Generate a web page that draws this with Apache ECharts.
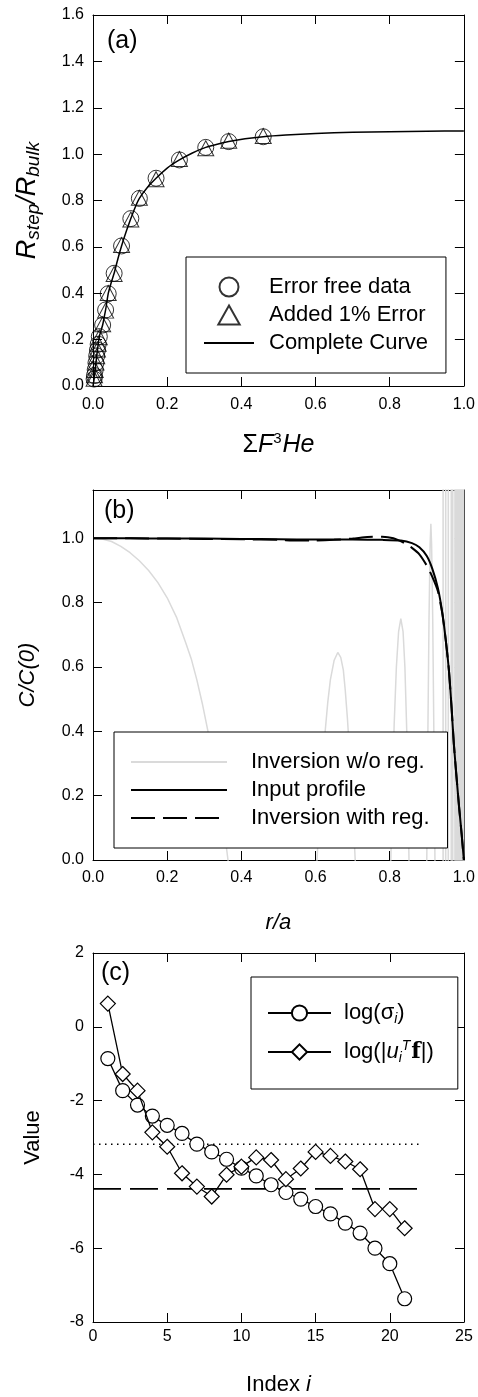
<!DOCTYPE html>
<html><head><meta charset="utf-8">
<script src="https://cdn.jsdelivr.net/npm/echarts@6/dist/echarts.min.js"></script>
<style>html,body{margin:0;padding:0;background:#fff}#c{width:478px;height:1397px}</style>
</head><body><div id="c"></div>
<script>
// ---------- Panel (a) ----------
const aXTicks = [0, 0.2, 0.4, 0.6, 0.8, 1.0];
const aYTicks = [0, 0.2, 0.4, 0.6, 0.8, 1.0, 1.2, 1.4, 1.6];
const aFreeX = [0.003,0.004,0.006,0.008,0.010,0.012,0.014,0.017,0.026,0.034,0.041,0.057,0.077,0.102,0.125,0.170,0.233,0.304,0.366,0.459];
const aFreeY = [0.030,0.045,0.070,0.100,0.130,0.155,0.180,0.213,0.263,0.328,0.398,0.486,0.604,0.722,0.809,0.896,0.975,1.029,1.054,1.075];
const aErrY  = [0.031,0.046,0.069,0.101,0.128,0.157,0.182,0.210,0.266,0.325,0.401,0.483,0.608,0.718,0.812,0.892,0.979,1.025,1.058,1.078];
const aCurveX = [0,0.003,0.006,0.010,0.014,0.017,0.021,0.026,0.030,0.034,0.041,0.049,0.057,0.067,0.077,0.090,0.102,0.113,0.125,0.147,0.170,0.200,0.233,0.268,0.304,0.335,0.366,0.410,0.459,0.52,0.6,0.7,0.8,0.9,1.0];
const aCurveY = [0,0.030,0.070,0.130,0.180,0.213,0.236,0.263,0.295,0.328,0.398,0.445,0.486,0.548,0.604,0.668,0.722,0.768,0.809,0.857,0.896,0.940,0.975,1.005,1.029,1.043,1.054,1.066,1.075,1.082,1.089,1.094,1.097,1.099,1.100];
const aNames = ['Error free data', 'Added 1% Error', 'Complete Curve'];

// ---------- Panel (b) ----------
const bXTicks = [0, 0.2, 0.4, 0.6, 0.8, 1.0];
const bYTicks = [0, 0.2, 0.4, 0.6, 0.8, 1.0];
const bYMax = 1.15;
const bInputR = [0,0.1,0.2,0.3,0.4,0.5,0.6,0.7,0.78,0.83,0.86,0.88,0.9,0.915,0.93,0.942,0.952,0.96,0.967,0.973,0.98,0.987,0.994,1.0];
const bInputC = [1.0,1.0,0.999,0.999,0.998,0.997,0.996,0.996,0.995,0.993,0.985,0.972,0.945,0.905,0.845,0.767,0.675,0.585,0.47,0.36,0.26,0.166,0.08,0.0];
const bRegR = [0,0.1,0.2,0.3,0.4,0.5,0.55,0.6,0.65,0.7,0.74,0.78,0.81,0.84,0.86,0.88,0.9,0.915,0.93,0.942,0.952,0.96,0.967,0.973,0.98,0.987,0.994,1.0];
const bRegC = [1.0,1.0,0.999,0.998,0.997,0.995,0.993,0.993,0.995,0.999,1.004,1.005,1.0,0.985,0.97,0.95,0.915,0.88,0.835,0.765,0.675,0.585,0.47,0.36,0.26,0.166,0.08,0.0];
const bNoRegR = [0,0.025,0.05,0.075,0.1,0.125,0.15,0.175,0.2,0.225,0.25,0.265,0.28,0.295,0.31,0.325,0.34,0.352,0.364,0.4,0.48,0.56,
  0.604,0.61,0.615,0.62,0.626,0.633,0.64,0.65,0.66,0.668,0.675,0.68,0.686,0.692,0.697,0.702,0.707,0.72,0.755,0.79,
  0.803,0.808,0.812,0.818,0.824,0.83,0.836,0.841,0.846,0.849,0.852,0.865,0.885,
  0.9,0.903,0.906,0.909,0.911,0.913,0.916,0.919,0.922,0.93,
  0.9437,0.944,0.9443,0.9507,0.951,0.9513,0.9577,0.958,0.9583,0.9657,0.966,0.9663,0.9697,0.970,0.9703,0.9757,0.976,0.9763,
  0.978,0.979,0.980,0.981,0.982,0.983,0.984,0.985,0.986,0.987,0.988,0.989,0.990,0.991,0.992,0.993,0.994,0.995,0.996,0.997,0.998,0.999,1.0];
const bNoRegC = [1.0,0.998,0.99,0.975,0.955,0.93,0.9,0.862,0.815,0.755,0.675,0.625,0.56,0.485,0.40,0.31,0.21,0.11,0.0,-0.3,-0.7,-0.4,
  0.0,0.13,0.25,0.33,0.4,0.49,0.56,0.62,0.645,0.63,0.59,0.53,0.44,0.33,0.23,0.12,0.0,-0.3,-0.7,-0.3,
  0.0,0.25,0.42,0.6,0.71,0.75,0.71,0.6,0.4,0.22,0.0,-0.5,-0.6,
  0.0,0.4,0.75,0.98,1.045,0.98,0.75,0.4,0.0,-1.0,
  -3,3,-3,-3,3,-3,-3,3,-3,-3,3,-3,-3,3,-3,-3,3,-3,
  -3,3,-3,3,-3,3,-3,3,-3,3,-3,3,-3,3,-3,3,-3,3,-3,3,-3,3,-3];
const bNames = ['Inversion w/o reg.', 'Input profile', 'Inversion with reg.'];

// ---------- Panel (c) ----------
const cXTicks = [0, 5, 10, 15, 20, 25];
const cYTicks = [-8, -6, -4, -2, 0, 2];
const cIndex = [1,2,3,4,5,6,7,8,9,10,11,12,13,14,15,16,17,18,19,20,21];
const cSigma = [-0.86,-1.73,-2.12,-2.42,-2.67,-2.89,-3.18,-3.39,-3.59,-3.83,-4.04,-4.28,-4.49,-4.67,-4.87,-5.07,-5.32,-5.59,-6.00,-6.42,-7.37];
const cUf    = [0.63,-1.28,-1.73,-2.86,-3.25,-3.97,-4.33,-4.60,-4.01,-3.79,-3.54,-3.61,-4.13,-3.84,-3.39,-3.50,-3.65,-3.86,-4.94,-4.94,-5.46];
const cLevelX = [0, 22];
const cDotted = [-3.18, -3.18];
const cDashed = [-4.39, -4.39];
const cNames = ['log(σi)', 'log(|uiTf|)'];

const FONT = '"Liberation Sans", Arial, Helvetica, sans-serif';
const zip = (xs, ys) => xs.map((x, i) => [x, ys[i]]);
const fmt1 = v => v.toFixed(1);

const grids = [
  {left: 93, top: 15, width: 371, height: 371},
  {left: 93, top: 490, width: 372, height: 370},
  {left: 93, top: 953, width: 371, height: 369}
];

function baseAxis(gridIndex, ticks, max, position, showLabels, fmt, margin) {
  return {
    type: 'value', gridIndex, position,
    min: ticks[0], max: max, interval: ticks[1] - ticks[0],
    axisLine: {show: true, onZero: false, lineStyle: {color: '#000', width: 1}},
    axisTick: {show: true, inside: true, length: 9, lineStyle: {color: '#000', width: 1}},
    axisLabel: {show: showLabels, color: '#000', fontSize: 16, fontFamily: FONT, margin: margin,
      formatter: v => (v > ticks[ticks.length - 1] + 1e-9 ? '' : fmt(v))},
    splitLine: {show: false}
  };
}
const nameStyle = (size) => ({color: '#000', fontSize: size, fontFamily: FONT});

const xAxes = [
  Object.assign(baseAxis(0, aXTicks, 1.0, 'bottom', true, fmt1, 11), {
    name: '{n|Σ}{i|F}{sup|3}{i|He}', nameLocation: 'middle', nameGap: 45,
    nameTextStyle: Object.assign(nameStyle(25), {rich: {
      n: {fontSize: 25, fontFamily: FONT, color: '#000'},
      i: {fontSize: 25, fontFamily: FONT, fontStyle: 'italic', color: '#000'},
      sup: {fontSize: 15, fontFamily: FONT, color: '#000', padding: [0, 1, 13, 0]}}})
  }),
  baseAxis(0, aXTicks, 1.0, 'top', false, fmt1, 8),
  Object.assign(baseAxis(1, bXTicks, 1.0, 'bottom', true, fmt1, 10), {
    name: 'r/a', nameLocation: 'middle', nameGap: 52,
    nameTextStyle: Object.assign(nameStyle(22), {fontStyle: 'italic'})
  }),
  baseAxis(1, bXTicks, 1.0, 'top', false, fmt1, 8),
  Object.assign(baseAxis(2, cXTicks, 25, 'bottom', true, v => String(v), 7), {
    name: '{n|Index }{i|i}', nameLocation: 'middle', nameGap: 52,
    nameTextStyle: Object.assign(nameStyle(22), {rich: {
      n: {fontSize: 22, fontFamily: FONT, color: '#000'},
      i: {fontSize: 22, fontFamily: FONT, fontStyle: 'italic', color: '#000'}}})
  }),
  baseAxis(2, cXTicks, 25, 'top', false, v => String(v), 8)
];
const yAxes = [
  Object.assign(baseAxis(0, aYTicks, 1.6, 'left', true, fmt1, 9), {
    name: '{i|R}{s|step}{i|/R}{s|bulk}', nameLocation: 'middle', nameRotate: 90, nameGap: 50,
    nameTextStyle: Object.assign(nameStyle(27), {rich: {
      i: {fontSize: 27, fontFamily: FONT, fontStyle: 'italic', color: '#000'},
      s: {fontSize: 19, fontFamily: FONT, fontStyle: 'italic', color: '#000', padding: [12, 0, 0, 0]}}})
  }),
  baseAxis(0, aYTicks, 1.6, 'right', false, fmt1, 8),
  Object.assign(baseAxis(1, bYTicks, bYMax, 'left', true, fmt1, 9), {
    name: 'C/C(0)', nameLocation: 'middle', nameRotate: 90, nameGap: 54,
    nameTextStyle: Object.assign(nameStyle(22), {fontStyle: 'italic'})
  }),
  baseAxis(1, bYTicks, bYMax, 'right', false, fmt1, 8),
  Object.assign(baseAxis(2, cYTicks, 2, 'left', true, v => String(v), 9), {
    name: 'Value', nameLocation: 'middle', nameRotate: 90, nameGap: 49,
    nameTextStyle: nameStyle(22)
  }),
  baseAxis(2, cYTicks, 2, 'right', false, v => String(v), 8)
];

const hollow = {color: 'rgba(0,0,0,0)', borderColor: '#000', borderWidth: 1};
const series = [
  {name: aNames[0], type: 'scatter', xAxisIndex: 0, yAxisIndex: 0, symbol: 'circle', symbolSize: 16,
   itemStyle: hollow, data: zip(aFreeX, aFreeY), z: 2},
  {name: aNames[1], type: 'scatter', xAxisIndex: 0, yAxisIndex: 0, symbol: 'triangle', symbolSize: [16, 15],
   itemStyle: hollow, data: zip(aFreeX, aErrY), z: 2},
  {name: aNames[2], type: 'line', xAxisIndex: 0, yAxisIndex: 0, symbol: 'none', smooth: 0.2,
   lineStyle: {color: '#000', width: 1.5}, itemStyle: {color: 'rgba(0,0,0,0)', borderWidth: 0},
   data: zip(aCurveX, aCurveY), z: 3},

  {name: bNames[0], type: 'line', xAxisIndex: 2, yAxisIndex: 2, symbol: 'none', clip: true,
   lineStyle: {color: '#dadada', width: 1.5}, itemStyle: {color: 'rgba(0,0,0,0)', borderWidth: 0},
   data: zip(bNoRegR, bNoRegC), z: 2},
  {name: bNames[1], type: 'line', xAxisIndex: 2, yAxisIndex: 2, symbol: 'none', smooth: 0.2, clip: true,
   lineStyle: {color: '#000', width: 2}, itemStyle: {color: 'rgba(0,0,0,0)', borderWidth: 0},
   data: zip(bInputR, bInputC), z: 3},
  {name: bNames[2], type: 'line', xAxisIndex: 2, yAxisIndex: 2, symbol: 'none', smooth: 0.2, clip: true,
   lineStyle: {color: '#000', width: 2, type: [24, 8]}, itemStyle: {color: 'rgba(0,0,0,0)', borderWidth: 0},
   data: zip(bRegR, bRegC), z: 3},

  {name: 'dotted', type: 'line', xAxisIndex: 4, yAxisIndex: 4, symbol: 'none',
   lineStyle: {color: '#000', width: 1.5, type: [1.5, 4.5]}, data: zip(cLevelX, cDotted), z: 1},
  {name: 'dashed', type: 'line', xAxisIndex: 4, yAxisIndex: 4, symbol: 'none',
   lineStyle: {color: '#000', width: 1.8, type: [28, 9]}, data: zip(cLevelX, cDashed), z: 1},
  {name: cNames[0], type: 'line', xAxisIndex: 4, yAxisIndex: 4, symbol: 'circle', symbolSize: 14,
   lineStyle: {color: '#000', width: 1.3}, itemStyle: {color: '#fff', borderColor: '#000', borderWidth: 1.2},
   data: zip(cIndex, cSigma), z: 3},
  {name: cNames[1], type: 'line', xAxisIndex: 4, yAxisIndex: 4, symbol: 'diamond', symbolSize: 15,
   lineStyle: {color: '#000', width: 1.3}, itemStyle: {color: '#fff', borderColor: '#000', borderWidth: 1.2},
   data: zip(cIndex, cUf), z: 4}
];

const legendBase = {
  orient: 'vertical', borderColor: '#000', borderWidth: 1, backgroundColor: '#fff',
  selectedMode: false, itemGap: 6, z: 10, symbolKeepAspect: true
};
const richC = {
  n: {fontSize: 22, fontFamily: FONT, color: '#000'},
  it: {fontSize: 22, fontFamily: FONT, fontStyle: 'italic', color: '#000'},
  sub: {fontSize: 14, fontFamily: FONT, fontStyle: 'italic', color: '#000', padding: [12, 0, 0, 0]},
  sup: {fontSize: 14, fontFamily: FONT, fontStyle: 'italic', color: '#000', padding: [0, 1, 12, 0]},
  bf: {fontSize: 22, fontFamily: '"DejaVu Serif", "Liberation Serif", serif', fontWeight: 'bold', color: '#000'}
};
const legends = [
  Object.assign({}, legendBase, {
    data: [
      {name: aNames[0], icon: 'circle'},
      {name: aNames[1], icon: 'path://M9,0 L18,16 L0,16 Z'},
      {name: aNames[2]}
    ],
    left: 186, top: 257, padding: [19, 18, 19, 17], itemWidth: 50, itemHeight: 19,
    textStyle: {fontSize: 22, fontFamily: FONT, color: '#000', padding: [0, 0, 0, 10]}
  }),
  Object.assign({}, legendBase, {
    data: bNames, left: 114, top: 732, padding: [19, 18, 19, 16], itemWidth: 96, itemHeight: 14,
    textStyle: {fontSize: 22, fontFamily: FONT, color: '#000', padding: [0, 0, 0, 19]}
  }),
  Object.assign({}, legendBase, {
    data: cNames, left: 251, top: 977, padding: [25, 24, 24, 16], itemWidth: 63, itemHeight: 19, itemGap: 13,
    textStyle: {fontSize: 22, fontFamily: FONT, color: '#000', padding: [0, 0, 0, 8], rich: richC},
    formatter: name => name === cNames[0]
      ? '{n|log(σ}{sub|i}{n|)}'
      : '{n|log(|}{it|u}{sub|i}{sup|T}{bf|f}{n||)}'
  })
];

const titles = [
  {text: '(a)', left: 107, top: 29},
  {text: '(b)', left: 104, top: 499},
  {text: '(c)', left: 101, top: 961}
].map(t => Object.assign(t, {padding: 0, textStyle: {fontSize: 25, fontWeight: 'normal', fontFamily: FONT, color: '#000'}}));

const chart = echarts.init(document.getElementById('c'), null, {renderer: 'canvas'});
chart.setOption({
  animation: false,
  backgroundColor: '#fff',
  title: titles,
  grid: grids,
  xAxis: xAxes,
  yAxis: yAxes,
  legend: legends,
  series: series
});
</script></body></html>
